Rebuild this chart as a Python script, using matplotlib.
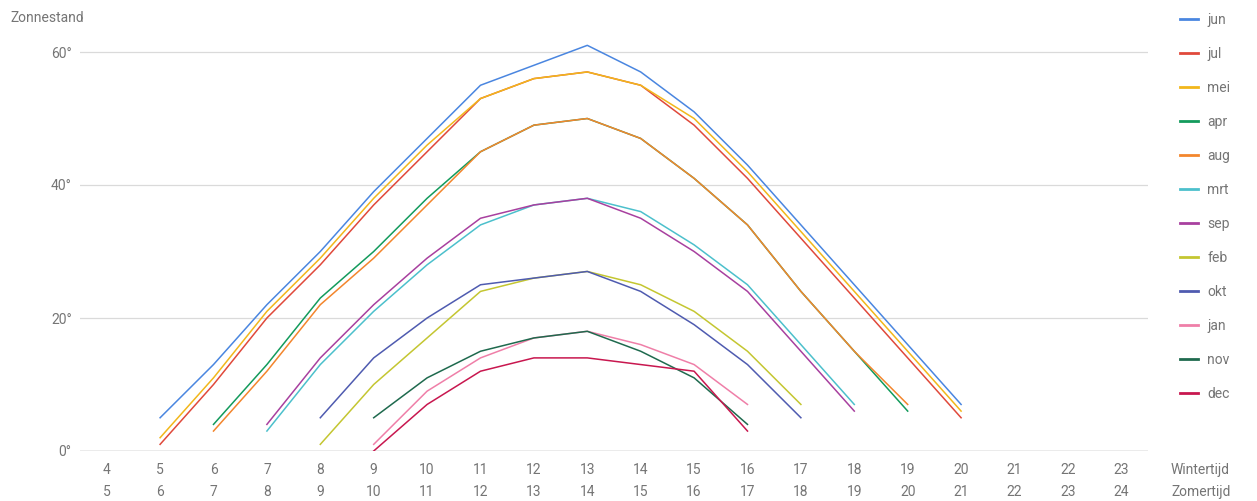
import matplotlib
matplotlib.use("Agg")
import matplotlib.pyplot as plt
from matplotlib.lines import Line2D

plt.rcParams["font.family"] = ["Roboto", "DejaVu Sans"]

# Hours of the day (winter time); summer time is one hour later
winter_hours = list(range(4, 24))
summer_hours = [h + 1 for h in winter_hours]

# Solar elevation (degrees) per month, with the first hour each series starts at
months = ["jun", "jul", "mei", "apr", "aug", "mrt", "sep", "feb", "okt", "jan", "nov", "dec"]
start_hour = {
    "jun": 5, "jul": 5, "mei": 5, "apr": 6, "aug": 6, "mrt": 7,
    "sep": 7, "feb": 8, "okt": 8, "jan": 9, "nov": 9, "dec": 9,
}
jun = [5, 13, 22, 30, 39, 47, 55, 58, 61, 57, 51, 43, 34, 25, 16, 7]
jul = [1, 10, 20, 28, 37, 45, 53, 56, 57, 55, 49, 41, 32, 23, 14, 5]
mei = [2, 11, 21, 29, 38, 46, 53, 56, 57, 55, 50, 42, 33, 24, 15, 6]
apr = [4, 13, 23, 30, 38, 45, 49, 50, 47, 41, 34, 24, 15, 6]
aug = [3, 12, 22, 29, 37, 45, 49, 50, 47, 41, 34, 24, 15, 7]
mrt = [3, 13, 21, 28, 34, 37, 38, 36, 31, 25, 16, 7]
sep = [4, 14, 22, 29, 35, 37, 38, 35, 30, 24, 15, 6]
feb = [1, 10, 17, 24, 26, 27, 25, 21, 15, 7]
okt = [5, 14, 20, 25, 26, 27, 24, 19, 13, 5]
jan = [1, 9, 14, 17, 18, 16, 13, 7]
nov = [5, 11, 15, 17, 18, 15, 11, 4]
dec = [0, 7, 12, 14, 14, 13, 12, 3]
series = {
    "jun": jun, "jul": jul, "mei": mei, "apr": apr, "aug": aug, "mrt": mrt,
    "sep": sep, "feb": feb, "okt": okt, "jan": jan, "nov": nov, "dec": dec,
}
colors = {
    "jun": "#4a86e0", "jul": "#e0493b", "mei": "#f2b71b", "apr": "#139b5c",
    "aug": "#f3862d", "mrt": "#4cc0cc", "sep": "#a8409f", "feb": "#c4c631",
    "okt": "#4f5bb0", "jan": "#ef7fa8", "nov": "#1f6a4e", "dec": "#c8174f",
}

y_ticks = [0, 20, 40, 60]

W, H = 1257, 501
fig = plt.figure(figsize=(W / 100, H / 100), dpi=100)
ax = fig.add_axes([80 / W, 1 - 451 / H, (1148 - 80) / W, (451 - 38.7) / H])

# Series are drawn in legend order, each one on top of the previous
for i, m in enumerate(months):
    vals = series[m]
    hrs = list(range(start_hour[m], start_hour[m] + len(vals)))
    ax.plot(hrs, vals, color=colors[m], lw=1.1, solid_joinstyle="round", zorder=3 + i * 0.01)

ax.set_xlim(3.5, 23.5)
ax.set_ylim(0, 62)

for y in y_ticks[1:]:
    ax.axhline(y, color="#dadada", lw=0.9, zorder=1)
ax.axhline(0, color="#9a9a9a", lw=1.0, zorder=2)

for s in ax.spines.values():
    s.set_visible(False)

text_color = "#757575"
ax.set_yticks(y_ticks)
ax.set_yticklabels([f"{v}°" for v in y_ticks])
ax.set_xticks(winter_hours)
ax.set_xticklabels([f"{w}\n{z}" for w, z in zip(winter_hours, summer_hours)])
ax.tick_params(axis="both", length=0, colors=text_color, labelsize=10)
ax.tick_params(axis="y", pad=6)
ax.tick_params(axis="x", pad=9)
for lab in ax.get_xticklabels():
    lab.set_linespacing(1.72)

fig.text(10 / W, 1 - 18 / H, "Zonnestand", color=text_color, fontsize=10,
         va="center", ha="left")
fig.text(1171 / W, 1 - 481 / H, "Wintertijd\nZomertijd", color=text_color,
         fontsize=10, va="center", ha="left", linespacing=1.72)

handles = [Line2D([], [], color=colors[m], lw=2.0) for m in months]
leg = fig.legend(handles, months, loc="upper left",
                 bbox_to_anchor=(1180 / W, 1 - 13 / H), frameon=False,
                 fontsize=10, handlelength=1.3, handletextpad=0.65,
                 labelspacing=1.44, borderaxespad=0, borderpad=0)
for t in leg.get_texts():
    t.set_color(text_color)

fig.savefig("out.png", dpi=100)
